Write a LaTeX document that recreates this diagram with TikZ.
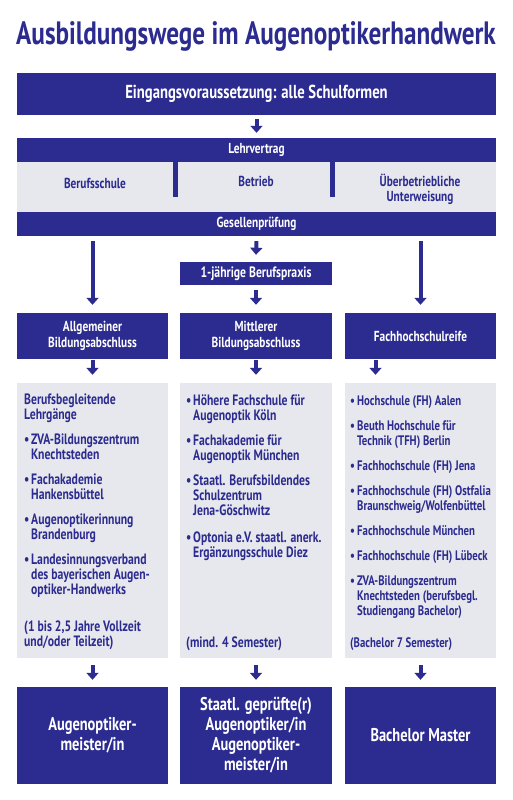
\documentclass[tikz,border=0pt]{standalone}
\usepackage{fontspec}
\setmainfont{PT Sans}[FakeStretch=0.78]
\usetikzlibrary{arrows.meta}
\definecolor{navy}{HTML}{2C2B90}
\definecolor{lgray}{HTML}{E7E8ED}
\newcommand\bl{\makebox[7pt][l]{\textbullet}}
\newcommand\ind{\hspace*{7pt}}
\begin{document}
\begin{tikzpicture}[x=1pt,y=-1pt,
  bar/.style={fill=navy, text=white, inner sep=0pt, minimum width=479pt, minimum height=24pt, font=\bfseries\fontsize{14.5}{15}\selectfont},
  dbox/.style={fill=navy, text=white, inner sep=0pt, align=center, minimum width=151pt},
  gbox/.style={fill=lgray, inner sep=0pt, minimum width=151pt, minimum height=275pt},
  gtext/.style={text=navy, align=center, font=\bfseries\fontsize{14.5}{15}\selectfont},
  ltext/.style={text=navy, align=left, anchor=north west, inner sep=0pt, font=\bfseries\fontsize{15}{15}\selectfont},
  rtext/.style={ltext, font=\bfseries\fontsize{13.8}{15}\selectfont},
  barr/.style={draw=navy, line width=4pt, -{Triangle[width=12pt,length=7pt]}},
]
\useasboundingbox[fill=white] (0,0) rectangle (512,800);
% title
\node[text=navy, font=\bfseries\fontsize{32.3}{34}\selectfont, inner sep=0pt] (title) at (256,36) {Ausbildungswege im Augenoptikerhandwerk};
% top
\node[bar, minimum height=42pt, font=\bfseries\fontsize{18.8}{20}\selectfont] (top) at (256.5,94) {Eingangsvoraussetzung: alle Schulformen};
\node[bar] (lehr) at (256.5,150) {Lehrvertrag};
\node[fill=lgray, minimum width=479pt, minimum height=50pt, inner sep=0pt] (mid) at (256.5,187) {};
\fill[navy] (173,162) rectangle (178,197);
\fill[navy] (330,162) rectangle (335,197);
\node[gtext] (bs) at (95,183) {Berufsschule};
\node[gtext] (be) at (256,181) {Betrieb};
\node[gtext] (ue) at (420,189) {Überbetriebliche\\Unterweisung};
\node[bar] (ges) at (256.5,224) {Gesellenprüfung};
% praxis
\node[dbox, minimum width=152pt, minimum height=23pt, font=\bfseries\fontsize{15}{15}\selectfont] (prax) at (256,273.5) {1-jährige Berufspraxis};
% abschluss
\node[dbox, minimum height=46pt, font=\bfseries\fontsize{14.5}{16}\selectfont] (a1) at (92.5,336) {Allgemeiner\\Bildungsabschluss};
\node[dbox, minimum width=152pt, minimum height=46pt, font=\bfseries\fontsize{14.5}{16}\selectfont] (a2) at (256,336) {Mittlerer\\Bildungsabschluss};
\node[dbox, minimum height=46pt, font=\bfseries\fontsize{14.5}{16}\selectfont] (a3) at (420.5,336) {Fachhochschulreife};
% gray lists
\node[gbox] (g1) at (92.5,520.5) {};
\node[gbox, minimum width=152pt] (g2) at (256,520.5) {};
\node[gbox] (g3) at (420.5,520.5) {};
\node[ltext] (l1) at (24,394) {Berufsbegleitende\\Lehrgänge\\[10pt]
\bl ZVA-Bildungszentrum\\\ind Knechtsteden\\[10pt]
\bl Fachakademie\\\ind Hankensbüttel\\[10pt]
\bl Augenoptikerinnung\\\ind Brandenburg\\[10pt]
\bl Landesinnungsverband\\\ind des bayerischen Augen-\\\ind optiker-Handwerks};
\node[ltext] (n1) at (24,621) {(1 bis 2,5 Jahre Vollzeit\\und/oder Teilzeit)};
\node[ltext] (l2) at (186,394) {\bl Höhere Fachschule für\\\ind Augenoptik Köln\\[10pt]
\bl Fachakademie für\\\ind Augenoptik München\\[10pt]
\bl Staatl. Berufsbildendes\\\ind Schulzentrum\\\ind Jena-Göschwitz\\[12pt]
\bl Optonia e.V. staatl. anerk.\\\ind Ergänzungsschule Diez};
\node[ltext] (n2) at (186,637) {(mind. 4 Semester)};
\node[rtext] (l3) at (350,395) {\bl Hochschule (FH) Aalen\\[10pt]
\bl Beuth Hochschule für\\\ind Technik (TFH) Berlin\\[10pt]
\bl Fachhochschule (FH) Jena\\[10pt]
\bl Fachhochschule (FH) Ostfalia\\\ind Braunschweig/Wolfenbüttel\\[10pt]
\bl Fachhochschule München\\[10pt]
\bl Fachhochschule (FH) Lübeck\\[10pt]
\bl ZVA-Bildungszentrum\\\ind Knechtsteden (berufsbegl.\\\ind Studiengang Bachelor)};
\node[rtext] (n3) at (350,637) {(Bachelor 7 Semester)};
% bottom
\node[dbox, minimum height=97pt, font=\bfseries\fontsize{18.5}{20}\selectfont] (b1) at (92.5,735.5) {Augenoptiker-\\meister/in};
\node[dbox, minimum width=152pt, minimum height=97pt, font=\bfseries\fontsize{18.5}{20}\selectfont] (b2) at (256,735.5) {Staatl. geprüfte(r)\\Augenoptiker/in\\Augenoptiker-\\meister/in};
\node[dbox, minimum height=97pt, font=\bfseries\fontsize{18.5}{20}\selectfont] (b3) at (420.5,735.5) {Bachelor Master};
% arrows
\draw[barr] ([yshift=-4pt]top.south) -- ([yshift=5pt]lehr.north);
\draw[barr] ([yshift=-5pt]ges.south -| a1.north) -- ([yshift=8pt]a1.north);
\draw[barr] ([yshift=-5pt]ges.south -| a3.north) -- ([yshift=8pt]a3.north);
\draw[barr] ([yshift=-5pt]ges.south) -- ([yshift=7pt]prax.north);
\draw[barr] ([yshift=-5pt]prax.south) -- ([yshift=8pt]a2.north);
\draw[barr] ([yshift=-1pt]a1.south) -- ([yshift=8pt]g1.north);
\draw[barr] ([yshift=-1pt]a2.south) -- ([yshift=8pt]g2.north);
\coordinate (c3) at ([xshift=-45pt]a3.south);
\draw[barr] ([yshift=-1pt]c3) -- ([yshift=8pt]c3 |- g3.north);
\draw[barr] ([yshift=-7pt]g1.south) -- ([yshift=7pt]b1.north);
\draw[barr] ([yshift=-7pt]g2.south) -- ([yshift=7pt]b2.north);
\draw[barr] ([yshift=-7pt]g3.south) -- ([yshift=7pt]b3.north);
\end{tikzpicture}
\end{document}
